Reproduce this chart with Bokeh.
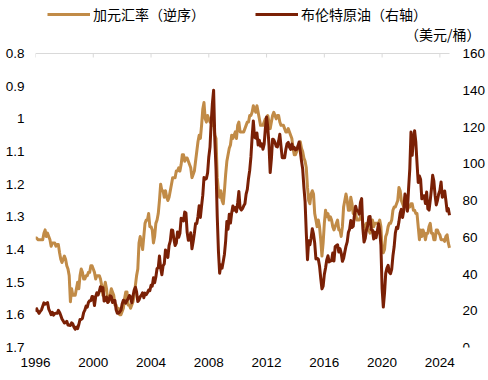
from bokeh.plotting import figure
from bokeh.models import (Range1d, LinearAxis, FixedTicker, Legend, LegendItem, Label,
                          NumeralTickFormatter, CustomJSTickFormatter)
from bokeh.core.properties import value
from bokeh.embed import file_html
from bokeh.resources import INLINE

# monthly data, Mar 1996 .. Nov 2024
start_year = 1996
start_month = 3

cad = [
    1.365, 1.365, 1.37, 1.37, 1.37, 1.37, 1.37, 1.35, 1.34, 1.36,
    1.35, 1.36, 1.37, 1.39, 1.38, 1.38, 1.38, 1.39, 1.385, 1.385, 1.41, 1.43,
    1.44, 1.43, 1.42, 1.43, 1.45, 1.46, 1.48, 1.56, 1.52, 1.54, 1.54, 1.54,
    1.52, 1.50, 1.52, 1.48, 1.46, 1.47, 1.49, 1.49, 1.48, 1.48, 1.47, 1.47,
    1.45, 1.45, 1.46, 1.47, 1.49, 1.48, 1.48, 1.48, 1.49, 1.51, 1.54, 1.52,
    1.50, 1.52, 1.56, 1.56, 1.54, 1.52, 1.53, 1.54, 1.57, 1.57, 1.59, 1.58,
    1.60, 1.60, 1.59, 1.58, 1.55, 1.53, 1.53, 1.57, 1.57, 1.58, 1.57, 1.56,
    1.54, 1.51, 1.48, 1.46, 1.38, 1.36, 1.38, 1.40, 1.36, 1.32, 1.31, 1.31,
    1.29, 1.33, 1.33, 1.34, 1.38, 1.36, 1.32, 1.31, 1.29, 1.25, 1.20, 1.22,
    1.22, 1.24, 1.22, 1.24, 1.25, 1.24, 1.22, 1.20, 1.18, 1.18, 1.18, 1.16,
    1.16, 1.15, 1.16, 1.14, 1.11, 1.11, 1.13, 1.12, 1.12, 1.13, 1.14, 1.15,
    1.18, 1.17, 1.16, 1.13, 1.10, 1.07, 1.05, 1.06, 1.02, 0.97, 0.95, 1.00,
    1.01, 0.99, 1.00, 1.01, 1.00, 1.02, 1.01, 1.05, 1.06, 1.18, 1.22, 1.24,
    1.22, 1.25, 1.26, 1.22, 1.17, 1.13, 1.11, 1.09, 1.08, 1.05, 1.06, 1.05,
    1.04, 1.06, 1.02, 1.01, 1.04, 1.04, 1.04, 1.04, 1.03, 1.02, 1.01, 1.01,
    0.99, 0.99, 0.98, 0.96, 0.97, 0.98, 0.96, 0.98, 1.00, 1.02, 1.02, 1.02,
    1.01, 1.00, 1.00, 0.99, 1.01, 1.03, 1.01, 0.99, 0.98, 0.99, 1.00, 0.99,
    0.99, 1.01, 1.02, 1.02, 1.02, 1.03, 1.04, 1.04, 1.03, 1.04, 1.05, 1.06,
    1.09, 1.11, 1.11, 1.10, 1.09, 1.08, 1.07, 1.09, 1.10, 1.12, 1.13, 1.15,
    1.21, 1.25, 1.26, 1.23, 1.22, 1.23, 1.29, 1.31, 1.33, 1.31, 1.33, 1.37,
    1.42, 1.38, 1.32, 1.28, 1.30, 1.29, 1.31, 1.30, 1.31, 1.33, 1.34, 1.33,
    1.32, 1.31, 1.34, 1.34, 1.36, 1.33, 1.27, 1.25, 1.23, 1.25, 1.28, 1.28,
    1.24, 1.26, 1.29, 1.28, 1.29, 1.31, 1.31, 1.31, 1.30, 1.30, 1.32, 1.34,
    1.33, 1.32, 1.34, 1.34, 1.35, 1.33, 1.31, 1.33, 1.32, 1.32, 1.32, 1.32,
    1.31, 1.33, 1.40, 1.41, 1.40, 1.36, 1.35, 1.33, 1.32, 1.32, 1.31, 1.28,
    1.27, 1.27, 1.26, 1.25, 1.21, 1.22, 1.25, 1.26, 1.27, 1.24, 1.25, 1.28,
    1.27, 1.27, 1.26, 1.26, 1.28, 1.28, 1.29, 1.29, 1.33, 1.37, 1.34, 1.36,
    1.34, 1.35, 1.37, 1.35, 1.35, 1.33, 1.32, 1.35, 1.35, 1.37, 1.37, 1.34,
    1.34, 1.35, 1.355, 1.37, 1.37, 1.37, 1.375, 1.36, 1.355, 1.38, 1.395,
]

brent = [
    19.5, 21.1, 19.6, 18.6, 19.7, 20.5, 22.4, 24.3, 23.6, 23.9,
    24.5, 20.9, 19.5, 17.9, 19.1, 17.6, 18.5, 18.6, 18.6, 20.2, 19.1, 17.4,
    15.5, 14.5, 13.3, 13.6, 14.3, 12.2, 12.1, 12.0, 13.4, 12.8, 11.0, 9.9,
    11.1, 10.3, 12.5, 15.3, 15.3, 15.9, 19.0, 20.3, 22.5, 22.0, 24.6, 25.5,
    25.5, 27.8, 27.5, 22.8, 27.6, 29.8, 28.6, 30.5, 33.1, 30.9, 32.6, 25.3,
    25.6, 27.5, 24.5, 25.7, 28.1, 27.8, 24.5, 25.6, 25.6, 20.5, 18.7, 18.7,
    19.4, 20.3, 23.7, 25.7, 25.4, 24.1, 25.7, 26.6, 28.3, 27.5, 24.3, 28.0,
    31.2, 32.8, 30.3, 25.0, 25.8, 27.6, 28.4, 29.8, 27.1, 29.6, 28.8, 29.8,
    31.2, 30.9, 33.8, 33.4, 37.9, 35.2, 38.4, 43.0, 43.4, 49.8, 43.1, 39.6,
    44.5, 45.5, 53.1, 51.9, 49.0, 55.6, 57.9, 63.9, 63.8, 58.9, 55.5, 56.8,
    62.9, 60.0, 62.1, 70.3, 70.0, 68.9, 73.7, 73.2, 62.8, 58.4, 58.5, 62.4,
    53.7, 57.6, 62.1, 67.5, 67.5, 71.3, 77.2, 70.8, 77.1, 82.9, 92.5, 91.5,
    92.0, 95.0, 103.7, 109.1, 122.8, 133.0, 140.0, 113.2, 97.2, 71.6, 52.5, 40.4,
    44.9, 43.2, 46.8, 50.8, 57.9, 68.6, 64.4, 72.5, 67.7, 73.2, 77.0, 74.7,
    76.2, 73.8, 78.8, 84.9, 75.9, 74.8, 75.6, 77.1, 78.2, 83.5, 86.1, 92.0,
    96.5, 103.7, 114.6, 123.3, 114.5, 113.9, 116.7, 110.2, 112.8, 109.6, 110.8, 107.9,
    110.7, 119.3, 125.5, 119.8, 110.3, 95.2, 102.6, 113.4, 113.0, 111.5, 109.5, 109.2,
    112.3, 116.1, 109.5, 103.3, 103.3, 103.3, 107.7, 110.9, 111.6, 109.1, 107.8, 110.8,
    108.1, 108.9, 107.5, 107.8, 109.5, 111.8, 106.8, 101.6, 97.1, 87.4, 79.4, 62.3,
    47.8, 58.1, 55.9, 59.5, 64.6, 61.7, 56.8, 48.2, 48.6, 48.1, 44.4, 37.7,
    31.9, 33.4, 39.8, 43.3, 47.6, 49.9, 46.6, 47.2, 47.2, 51.4, 47.1, 54.9,
    55.5, 55.9, 52.0, 53.8, 51.4, 46.9, 48.5, 51.9, 55.2, 57.5, 62.7, 64.4,
    69.1, 65.3, 66.0, 72.1, 76.9, 74.4, 74.3, 72.5, 78.9, 81.0, 64.8, 57.4,
    59.4, 64.0, 66.1, 71.2, 71.3, 64.2, 63.9, 59.0, 62.8, 59.7, 63.2, 67.3,
    63.7, 55.7, 32.0, 22.0, 29.4, 40.3, 43.2, 44.7, 40.9, 40.2, 42.7, 49.9,
    54.8, 62.3, 65.4, 64.8, 68.5, 73.2, 75.2, 70.8, 74.5, 83.5, 81.1, 74.2,
    86.5, 97.1, 117.3, 104.6, 113.3, 118.0, 111.9, 100.5, 89.8, 93.3, 91.4, 80.9,
    82.5, 82.6, 78.4, 84.6, 75.5, 74.8, 80.1, 86.2, 93.7, 90.6, 82.9, 77.6,
    80.1, 83.5, 85.4, 90.1, 81.8, 82.6, 85.2, 80.0, 74.3, 75.6, 72.0,
]

# category-style axis: a label every 4 years, starting at the first observation
year_ticks = [1996, 2000, 2004, 2008, 2012, 2016, 2020, 2024]
cad_ticks = [0.8, 0.9, 1.0, 1.1, 1.2, 1.3, 1.4, 1.5, 1.6, 1.7]
oil_ticks = [0, 20, 40, 60, 80, 100, 120, 140, 160]
cad_name = "加元汇率（逆序）"
oil_name = "布伦特原油（右轴）"
unit_text = "（美元/桶）"

t = [start_year + (start_month - 1 + i) / 12.0 for i in range(len(cad))]
tick_pos = [y + (start_month - 1) / 12.0 for y in year_ticks]

ORANGE = "#C18B47"
BROWN = "#7A2005"
AXIS_GREY = "#D9D9D9"
NUM_FONT = "Liberation Sans"
CJK_FONT = "Noto Sans CJK SC"
FS = "13.5px"

# layout (pixels inside the 488x380 figure)
W, H = 488, 380
PLOT_L, PLOT_R = 35.0, 449.0     # where the series start / end
TOP_GAP = 53.0                    # figure top -> 0.8 / 160 line
BOT = 347.0                       # figure top -> 1.7 / 0 line
ppy = (PLOT_R - PLOT_L) / (t[-1] - t[0])
x_end = t[-1] + (W - PLOT_R) / ppy
cad_lo, cad_hi = 1.7, 0.8
oil_lo, oil_hi = 0.0, 160.0
cad_top = cad_hi - (cad_lo - cad_hi) * TOP_GAP / (BOT - TOP_GAP)
oil_top = oil_hi + (oil_hi - oil_lo) * TOP_GAP / (BOT - TOP_GAP)

p = figure(width=W, height=H, output_backend="svg", toolbar_location=None,
           x_range=Range1d(t[0], x_end), y_range=Range1d(cad_lo, cad_top),
           x_axis_location=None, y_axis_location=None,
           min_border_left=int(PLOT_L), min_border_right=0, min_border_top=0,
           min_border_bottom=int(H - BOT))
p.extra_y_ranges = {"oil": Range1d(oil_lo, oil_top)}
p.outline_line_color = None
p.grid.visible = False
p.background_fill_color = "white"

bottom = LinearAxis(ticker=FixedTicker(ticks=tick_pos),
                    formatter=CustomJSTickFormatter(code="return Math.floor(tick + 1e-6).toFixed(0);"),
                    axis_line_color=None, major_tick_line_color=None, minor_tick_line_color=None,
                    major_tick_in=0, major_tick_out=0, major_label_standoff=10,
                    major_label_text_font=NUM_FONT, major_label_text_font_size=FS,
                    major_label_text_color="#000000")
p.add_layout(bottom, "below")

left = LinearAxis(ticker=FixedTicker(ticks=cad_ticks), formatter=NumeralTickFormatter(format="0.[0]"),
                  axis_line_color=None, major_tick_line_color=None, minor_tick_line_color=None,
                  major_tick_in=0, major_tick_out=0, major_label_standoff=11,
                  major_label_text_font=NUM_FONT, major_label_text_font_size=FS,
                  major_label_text_color="#000000")
p.add_layout(left, "left")

# right-hand (oil) tick labels, drawn as text on the oil range
x_lab = t[-1] + 13.0 / ppy
p.text(x=[x_lab] * len(oil_ticks), y=oil_ticks, text=[str(v) for v in oil_ticks],
       y_range_name="oil", text_align="left", text_baseline="middle",
       text_font=value(NUM_FONT), text_font_size=value(FS), text_color="#000000")

# the category axis line sits at the top (0.8, reversed axis) with downward ticks
p.segment(x0=[t[0]], x1=[t[-1]], y0=[cad_hi], y1=[cad_hi], line_color=AXIS_GREY, line_width=1)
tick_len = (cad_lo - cad_hi) * 4.0 / (BOT - TOP_GAP)
p.segment(x0=tick_pos, x1=tick_pos, y0=[cad_hi] * len(tick_pos),
          y1=[cad_hi + tick_len] * len(tick_pos), line_color=AXIS_GREY, line_width=1)

r_cad = p.line(t, cad, line_color=ORANGE, line_width=3, line_join="round")
r_oil = p.line(t, brent, line_color=BROWN, line_width=3, line_join="round", y_range_name="oil")

legend = Legend(items=[LegendItem(label=cad_name, renderers=[r_cad]),
                       LegendItem(label=oil_name, renderers=[r_oil])],
                orientation="horizontal", location=(12, int(BOT - 24)),
                label_text_font=CJK_FONT, label_text_font_size="14px", label_text_color="#000000",
                glyph_width=43, glyph_height=16, label_standoff=3, spacing=50,
                padding=0, margin=0, border_line_color=None, background_fill_alpha=0)
p.add_layout(legend)

p.add_layout(Label(x=480 - PLOT_L, y=BOT - 33, x_units="screen", y_units="screen", text=unit_text,
                   text_align="right", text_baseline="middle", text_font=CJK_FONT,
                   text_font_size="14px", text_color="#000000"))

open("out.html", "w").write(file_html(p, INLINE))
